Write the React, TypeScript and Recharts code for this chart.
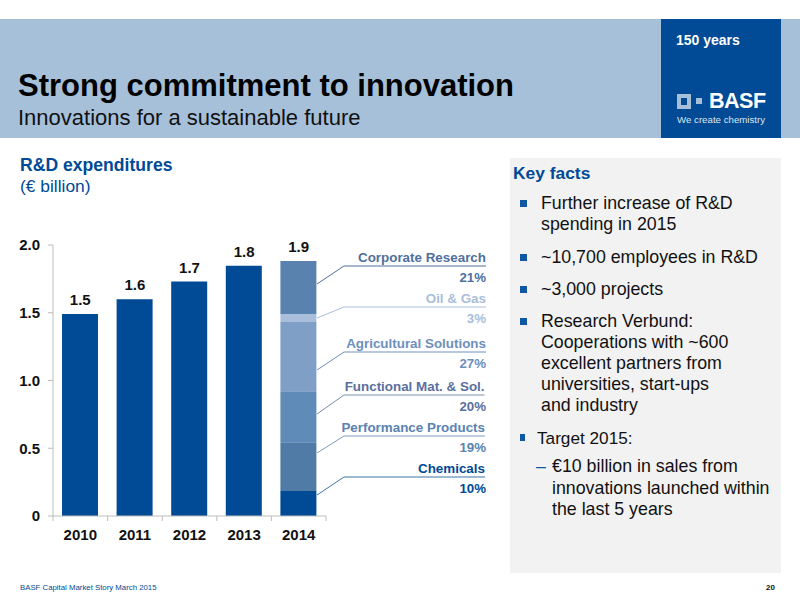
import React from "react";
import { ComposedChart, Bar, Line, XAxis, YAxis, LabelList } from "recharts";

const years = ["2010", "2011", "2012", "2013", "2014"];
const earlier = [1.49, 1.6, 1.73, 1.847, null];
const chemicals = [null, null, null, null, 0.185];
const performance = [null, null, null, null, 0.36];
const functional = [null, null, null, null, 0.376];
const agricultural = [null, null, null, null, 0.51];
const oilGas = [null, null, null, null, 0.06];
const corporate = [null, null, null, null, 0.39];
const tops = [1.49, 1.6, 1.73, 1.847, 1.881];
const totalLabels = ["1.5", "1.6", "1.7", "1.8", "1.9"];

const data = years.map((y, i) => ({
  year: y,
  earlier: earlier[i],
  chemicals: chemicals[i],
  performance: performance[i],
  functional: functional[i],
  agricultural: agricultural[i],
  oilGas: oilGas[i],
  corporate: corporate[i],
  top: tops[i],
  label: totalLabels[i],
}));

const callouts = [
  { name: "Corporate Research", pct: "21%", color: "#4F6F9E", line: "#4F6F9E" },
  { name: "Oil & Gas", pct: "3%", color: "#A9BEDA", line: "#A9BEDA" },
  { name: "Agricultural Solutions", pct: "27%", color: "#6E8FBD", line: "#6E8FBD" },
  { name: "Functional Mat. & Sol.", pct: "20%", color: "#5B6F9E", line: "#7A8DB0" },
  { name: "Performance Products", pct: "19%", color: "#5A83B2", line: "#7E9CC0" },
  { name: "Chemicals", pct: "10%", color: "#004A96", line: "#3F75A8" },
];
const calloutRule = [266, 307, 352, 395, 436, 477];
const calloutStart = [284, 318, 370, 414, 453, 495];
const calloutEnd = [486, 486, 486, 484.5, 485, 485];

const facts = [
  { text: ["Further increase of R&D", "spending in 2015"], y: 193 },
  { text: ["~10,700 employees in R&D"], y: 247 },
  { text: ["~3,000 projects"], y: 279 },
  { text: ["Research Verbund:", "Cooperations with ~600", "excellent partners from", "universities, start-ups", "and industry"], y: 311 },
];
const target = ["€10 billion in sales from", "innovations launched within", "the last 5 years"];

const FONT = "'Liberation Sans', Arial, sans-serif";
const AXIS = "#BDBDBD";
const BULLET = "#0F57A2";

const abs = (left: number, top: number, extra: React.CSSProperties = {}): React.CSSProperties => ({
  position: "absolute",
  left,
  top,
  whiteSpace: "nowrap",
  ...extra,
});

const YearTick = (props: any) => {
  const { x, y, payload, index } = props;
  const half = 27.3;
  return (
    <g>
      <line x1={x - half} x2={x - half} y1={y - 8} y2={y - 3} stroke={AXIS} />
      {index === years.length - 1 && <line x1={x + half} x2={x + half} y1={y - 8} y2={y - 3} stroke={AXIS} />}
      <text x={x} y={y + 16} textAnchor="middle" fontFamily={FONT} fontWeight="bold" fontSize={15} fill="#111">
        {payload.value}
      </text>
    </g>
  );
};

const ValueLabel = (props: any) => {
  const { x, y, index } = props;
  return (
    <text x={x} y={y - 9} textAnchor="middle" fontFamily={FONT} fontWeight="bold" fontSize={15} fill="#111">
      {totalLabels[index]}
    </text>
  );
};

export default function App() {
  return (
    <div style={{ position: "absolute", left: 0, top: 0, width: 800, height: 600, background: "#fff", overflow: "hidden", fontFamily: FONT }}>
      <div style={abs(0, 19, { width: 800, height: 119, background: "#A6C0DA" })} />
      <div style={abs(661, 19, { width: 120, height: 119, background: "#004A96" })} />
      <div style={abs(676, 32, { color: "#fff", fontWeight: "bold", fontSize: 14 })}>150 years</div>
      <div style={abs(677, 94, { width: 14, height: 15, background: "#A6C0DA" })} />
      <div style={abs(681, 98, { width: 6, height: 7, background: "#004A96" })} />
      <div style={abs(696, 98, { width: 6, height: 6, background: "#A6C0DA" })} />
      <div style={abs(709, 89, { color: "#fff", fontWeight: "bold", fontSize: 21.5, letterSpacing: -0.5 })}>BASF</div>
      <div style={abs(677, 114, { color: "#DDE6F0", fontSize: 9.7 })}>We create chemistry</div>

      <div style={abs(18, 68, { color: "#000", fontWeight: "bold", fontSize: 31 })}>Strong commitment to innovation</div>
      <div style={abs(18, 105, { color: "#111", fontSize: 22 })}>Innovations for a sustainable future</div>

      <div style={abs(20, 155, { color: "#004A96", fontWeight: "bold", fontSize: 17.6 })}>R&amp;D expenditures</div>
      <div style={abs(20, 176, { color: "#004A96", fontSize: 17.4 })}>(€ billion)</div>

      <div style={abs(510, 158, { width: 271, height: 415, background: "#F2F2F2" })} />
      <div style={abs(513, 163, { color: "#004A96", fontWeight: "bold", fontSize: 17.4 })}>Key facts</div>
      {facts.map((f) => (
        <React.Fragment key={f.text[0]}>
          <div style={abs(520, f.y + 7, { width: 7, height: 7, background: BULLET })} />
          {f.text.map((t, i) => (
            <div key={t} style={abs(541, f.y + i * 21, { color: "#111", fontSize: 17.8 })}>{t}</div>
          ))}
        </React.Fragment>
      ))}
      <div style={abs(520, 434, { width: 5, height: 7, background: BULLET })} />
      <div style={abs(537, 428, { color: "#111", fontSize: 17.2 })}>Target 2015:</div>
      <div style={abs(536, 456, { color: BULLET, fontSize: 17.8 })}>–</div>
      {target.map((t, i) => (
        <div key={t} style={abs(552, 456 + i * 21.5, { color: "#111", fontSize: 17.8 })}>{t}</div>
      ))}

      <div style={abs(20, 583, { color: "#004A96", fontSize: 7.8 })}>BASF Capital Market Story March 2015</div>
      <div style={abs(766, 583, { color: "#111", fontWeight: "bold", fontSize: 8 })}>20</div>

      <div style={{ position: "absolute", left: 0, top: 0 }}>
        <ComposedChart
          width={800}
          height={600}
          data={data}
          margin={{ top: 245, right: 474, bottom: 0, left: 13 }}
        >
          <XAxis dataKey="year" axisLine={{ stroke: AXIS }} tickLine={false} height={84} interval={0} tick={<YearTick />} />
          <YAxis
            width={40}
            domain={[0, 2]}
            ticks={[0, 0.5, 1, 1.5, 2]}
            tickFormatter={(v: number) => (v === 0 ? "0" : v.toFixed(1))}
            axisLine={{ stroke: AXIS }}
            tickLine={{ stroke: AXIS }}
            tickSize={5}
            tickMargin={8}
            tick={{ fontFamily: FONT, fontWeight: "bold", fontSize: 15, fill: "#111" }}
          />
          <Bar dataKey="earlier" stackId="a" fill="#004A96" barSize={36} isAnimationActive={false} />
          <Bar dataKey="chemicals" stackId="a" fill="#004A96" barSize={36} isAnimationActive={false} />
          <Bar dataKey="performance" stackId="a" fill="#507BA6" barSize={36} isAnimationActive={false} />
          <Bar dataKey="functional" stackId="a" fill="#5F8BB9" barSize={36} isAnimationActive={false} />
          <Bar dataKey="agricultural" stackId="a" fill="#7F9FC7" barSize={36} isAnimationActive={false} />
          <Bar dataKey="oilGas" stackId="a" fill="#A9BEDA" barSize={36} isAnimationActive={false} />
          <Bar dataKey="corporate" stackId="a" fill="#5A82AF" barSize={36} isAnimationActive={false} />
          <Line dataKey="top" stroke="none" dot={false} activeDot={false} isAnimationActive={false}>
            <LabelList dataKey="label" content={<ValueLabel />} />
          </Line>
        </ComposedChart>
      </div>

      <svg width={800} height={600} style={{ position: "absolute", left: 0, top: 0, pointerEvents: "none" }}>
        {callouts.map((c, i) => (
          <g key={c.name}>
            <polyline points={`317,${calloutStart[i]} 344,${calloutRule[i]} ${calloutEnd[i]},${calloutRule[i]}`} fill="none" stroke={c.line} strokeWidth={1} />
            <text x={calloutEnd[i]} y={calloutRule[i] - 4} textAnchor="end" fontFamily={FONT} fontWeight="bold" fontSize={13.4} fill={c.color}>{c.name}</text>
            <text x={486} y={calloutRule[i] + 16} textAnchor="end" fontFamily={FONT} fontWeight="bold" fontSize={13.3} fill={c.color}>{c.pct}</text>
          </g>
        ))}
      </svg>
    </div>
  );
}
